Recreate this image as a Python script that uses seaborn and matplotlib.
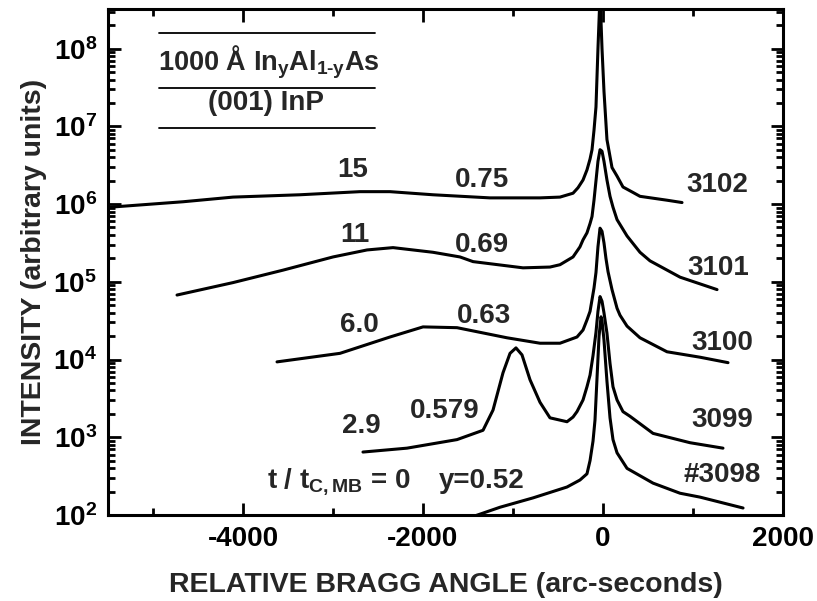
import numpy as np
import pandas as pd
import matplotlib
matplotlib.use("Agg")
import matplotlib.pyplot as plt
from matplotlib.lines import Line2D
from matplotlib.ticker import FixedLocator, LogLocator, NullFormatter
import seaborn as sns

# ---- data; intensities given as log10 values ----
angle_3102 = [-5480, -4667, -4111, -3367, -2700, -2367, -1889, -1256, -700, -478, -333, -278, -222, -178, -144,
              -122, -100, -78, -56, -33, -11, 11, 44, 100, 156, 222, 333, 411, 711, 878]
logI_3102 = [5.96, 6.03, 6.09, 6.12, 6.16, 6.16, 6.12, 6.08, 6.08, 6.09, 6.14, 6.21, 6.31, 6.44, 6.58,
             6.70, 6.95, 7.25, 8.00, 8.70, 8.00, 7.45, 6.83, 6.47, 6.36, 6.22, 6.15, 6.10, 6.05, 6.02]

angle_3101 = [-4733, -4111, -3556, -3000, -2622, -2333, -1889, -1589, -1444, -889, -589, -478, -333, -256, -222,
              -178, -144, -122, -100, -78, -56, -33, -11, 11, 44, 78, 111, 156, 267, 411, 522, 856, 1267]
logI_3101 = [4.83, 4.99, 5.15, 5.32, 5.41, 5.44, 5.38, 5.32, 5.26, 5.18, 5.19, 5.22, 5.32, 5.45, 5.54,
             5.63, 5.75, 5.84, 6.05, 6.30, 6.55, 6.70, 6.68, 6.55, 6.31, 6.10, 5.96, 5.80, 5.59, 5.38, 5.27,
             5.06, 4.90]

angle_3100 = [-3622, -2922, -2367, -2000, -1622, -1067, -700, -478, -289, -222, -178, -144, -122, -100, -78, -56,
              -33, -11, 11, 33, 56, 100, 156, 189, 267, 411, 711, 1078, 1389]
logI_3100 = [3.97, 4.08, 4.29, 4.42, 4.41, 4.28, 4.21, 4.21, 4.29, 4.38, 4.51, 4.62, 4.77, 4.92, 5.12, 5.45,
             5.69, 5.65, 5.50, 5.30, 5.13, 4.90, 4.66, 4.57, 4.43, 4.28, 4.10, 4.03, 3.96]

angle_3099 = [-2667, -2178, -1622, -1333, -1222, -1111, -1033, -967, -900, -811, -700, -589, -400, -333, -289,
              -222, -178, -144, -111, -78, -56, -33, -11, 11, 44, 78, 111, 156, 222, 300, 556, 967, 1333]
logI_3099 = [2.81, 2.86, 2.97, 3.09, 3.35, 3.83, 4.08, 4.15, 4.06, 3.74, 3.45, 3.25, 3.20, 3.26, 3.33,
             3.48, 3.65, 3.80, 4.05, 4.35, 4.62, 4.81, 4.75, 4.60, 4.34, 3.95, 3.65, 3.48, 3.33, 3.27, 3.05,
             2.93, 2.86]

angle_3098 = [-1444, -1144, -778, -400, -256, -178, -144, -111, -89, -67, -44, -22, -11, 11, 44, 78, 111, 156,
              267, 556, 856, 1078, 1556]
logI_3098 = [1.98, 2.10, 2.22, 2.36, 2.45, 2.53, 2.70, 2.95, 3.22, 3.75, 4.30, 4.55, 4.50, 4.25, 3.72, 3.25,
             2.97, 2.80, 2.60, 2.41, 2.28, 2.23, 2.09]

samples = ["3102", "3101", "3100", "3099", "3098"]
x_ticks = [-4000, -2000, 0, 2000]
x_tick_labels = ["-4000", "-2000", "0", "2000"]
y_decades = [2, 3, 4, 5, 6, 7, 8]

frames = []
for s, a, l in zip(samples,
                   [angle_3102, angle_3101, angle_3100, angle_3099, angle_3098],
                   [logI_3102, logI_3101, logI_3100, logI_3099, logI_3098]):
    frames.append(pd.DataFrame({"angle": a, "intensity": 10.0 ** np.array(l), "sample": s}))
df = pd.concat(frames, ignore_index=True)

# ---- style ----
sns.set_style("ticks")
plt.rcParams["font.family"] = ["Liberation Sans", "DejaVu Sans"]
plt.rcParams["font.weight"] = "bold"
plt.rcParams["axes.unicode_minus"] = False
plt.rcParams["mathtext.fontset"] = "custom"
plt.rcParams["mathtext.rm"] = "Liberation Sans:bold"
plt.rcParams["mathtext.it"] = "Liberation Sans:bold"
plt.rcParams["mathtext.bf"] = "Liberation Sans:bold"
plt.rcParams["mathtext.sf"] = "Liberation Sans:bold"
plt.rcParams["mathtext.default"] = "rm"

fig = plt.figure(figsize=(8.17, 6.01), dpi=100)
ax = fig.add_axes([108 / 817, 86 / 601, 675 / 817, 506 / 601])

sns.lineplot(data=df, x="angle", y="intensity", hue="sample", units="sample", estimator=None,
             sort=False, palette=["black"] * 5, linewidth=2.2, legend=False, ax=ax)

ax.set_yscale("log")
ax.set_xlim(-5500, 2000)
ax.set_ylim(1e2, 10 ** 8.51)

ax.xaxis.set_major_locator(FixedLocator(x_ticks))
ax.set_xticklabels(x_tick_labels)
ax.xaxis.set_minor_locator(FixedLocator([-5000, -3000, -1000, 1000]))
ax.yaxis.set_major_locator(FixedLocator([10.0 ** d for d in y_decades]))
ax.set_yticklabels([r"$10^{%d}$" % d for d in y_decades])
ax.yaxis.set_minor_locator(LogLocator(base=10, subs=np.arange(2, 10), numticks=20))
ax.yaxis.set_minor_formatter(NullFormatter())

ax.tick_params(which="both", direction="in", top=True, right=True, width=2, colors="black")
ax.tick_params(which="major", length=9, labelsize=20, pad=8)
ax.tick_params(which="minor", length=5)
for sp in ax.spines.values():
    sp.set_linewidth(2.2)
    sp.set_color("black")

ax.set_xlabel("RELATIVE BRAGG ANGLE (arc-seconds)", fontsize=20.5, fontweight="bold", labelpad=14)
ax.set_ylabel("INTENSITY (arbitrary units)", fontsize=20.5, fontweight="bold", labelpad=4)

# ---- annotations ----
fs = 20
tkw = dict(transform=ax.transAxes, fontsize=fs, fontweight="bold", va="baseline", ha="center")
labels = [
    ("15", 0.363, 0.668), ("0.75", 0.554, 0.648), ("3102", 0.902, 0.638),
    ("11", 0.366, 0.540), ("0.69", 0.554, 0.520), ("3101", 0.904, 0.474),
    ("6.0", 0.372, 0.362), ("0.63", 0.557, 0.379), ("3100", 0.910, 0.326),
    ("2.9", 0.376, 0.162), ("0.579", 0.499, 0.192), ("3099", 0.910, 0.174),
    ("y=0.52", 0.553, 0.053), ("#3098", 0.910, 0.065),
]
for t, fx, fy in labels:
    ax.text(fx, fy, t, **tkw)
ax.text(0.2356, 0.055, r"t / t$_{\mathrm{C,MB}}$ = 0", transform=ax.transAxes, fontsize=fs,
        fontweight="bold", va="baseline", ha="left")

# inset layer-stack legend
for fy in [0.9526, 0.8439, 0.7648]:
    ax.add_line(Line2D([0.0756, 0.3956], [fy, fy], transform=ax.transAxes, color="black", lw=1.3))
ax.text(0.2385, 0.879, r"1000 Å In$_{\mathrm{y}}$Al$_{\mathrm{1\text{-}y}}$As", transform=ax.transAxes,
        fontsize=19.5, fontweight="bold", va="baseline", ha="center")
ax.text(0.234, 0.800, "(001) InP", transform=ax.transAxes, fontsize=fs, fontweight="bold",
        va="baseline", ha="center")

fig.savefig("out.png", dpi=100)
